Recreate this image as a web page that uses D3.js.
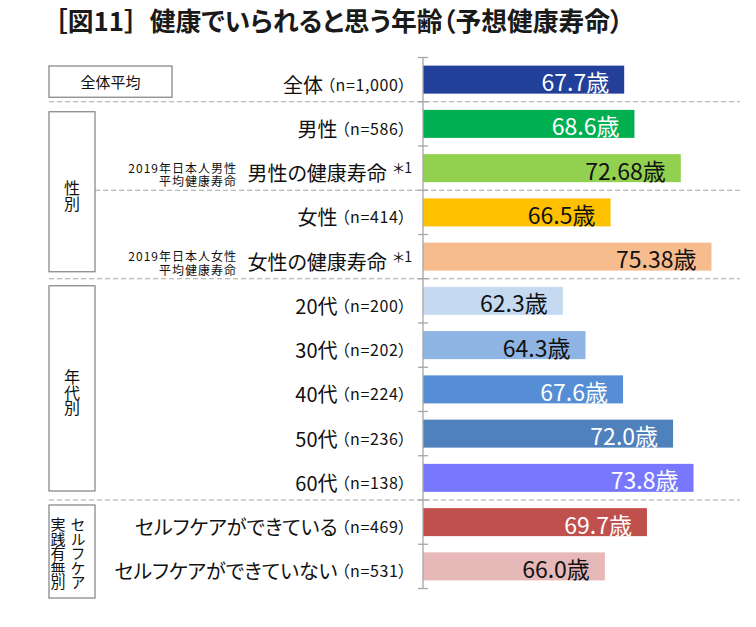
<!DOCTYPE html>
<html>
<head>
<meta charset="utf-8">
<script src="https://cdn.jsdelivr.net/npm/d3@7"></script>
<style>
body { margin: 0; background: #fff; }
svg text { font-family: "Noto Sans CJK JP", "Noto Sans", sans-serif; font-feature-settings: "palt"; }
</style>
</head>
<body>
<div id="chart"></div>
<script>
var categories = ["全体", "男性", "男性の健康寿命", "女性", "女性の健康寿命",
    "20代", "30代", "40代", "50代", "60代",
    "セルフケアができている", "セルフケアができていない"];
var sampleSizes = ["n=1,000", "n=586", null, "n=414", null,
    "n=200", "n=202", "n=224", "n=236", "n=138", "n=469", "n=531"];
var values = [67.7, 68.6, 72.68, 66.5, 75.38, 62.3, 64.3, 67.6, 72.0, 73.8, 69.7, 66.0];
var decimals = [1, 1, 2, 1, 2, 1, 1, 1, 1, 1, 1, 1];
var footnotes = [null, null, "＊1", null, "＊1", null, null, null, null, null, null, null];
var noteLines = [null, null, ["2019年日本人男性", "平均健康寿命"], null, ["2019年日本人女性", "平均健康寿命"],
    null, null, null, null, null, null, null];
var groupColumns = [["全体平均"], ["性別"], ["年代別"], ["セルフケア", "実践有無別"]];
var groupSizes = [1, 4, 5, 2];
var barColors = ["#22409a", "#00b050", "#92d050", "#ffc000", "#f7bc8e",
    "#c5d9f1", "#8eb4e3", "#558ed5", "#4f81bd", "#7878ff", "#c0504d", "#e6b9b8"];
var valueColors = ["#fff", "#fff", "#111", "#111", "#111",
    "#111", "#111", "#fff", "#fff", "#fff", "#fff", "#111"];

var width = 756, height = 627;
var gridColor = "#a6a6a6";

var svg = d3.select("#chart").append("svg")
    .attr("width", width)
    .attr("height", height);

// title
var title = svg.append("text")
    .attr("x", 42)
    .attr("y", 31)
    .attr("textLength", 581)
    .attr("lengthAdjust", "spacingAndGlyphs")
    .style("font-size", "26px")
    .style("font-weight", "bold")
    .style("fill", "#1a1a1a");
title.append("tspan")
    .style("font-feature-settings", "normal")
    .text("［図11］");
title.append("tspan")
    .text("健康でいられると思う年齢（予想健康寿命）");

var y = d3.scaleBand()
    .domain(categories)
    .range([57.5, 588.5])
    .paddingInner(0.367)
    .paddingOuter(0.1835);

var x = d3.scaleLinear()
    .domain([50, 80])
    .range([423, 764]);

var step = y.step();
var boundary = function(i) { return y.range()[0] + i * step; };
var center = function(d) { return y(d) + y.bandwidth() / 2; };

// dashed separators between groups
var groupEnds = [];
var acc = 0;
groupSizes.forEach(function(n) { groupEnds.push([acc, acc + n]); acc += n; });

groupEnds.slice(0, -1).forEach(function(g) {
    svg.append("line")
        .attr("x1", 49).attr("x2", 740)
        .attr("y1", boundary(g[1])).attr("y2", boundary(g[1]))
        .style("stroke", gridColor)
        .style("stroke-dasharray", "5,3");
});
// male / female split inside 性別
svg.append("line")
    .attr("x1", 95).attr("x2", 740)
    .attr("y1", boundary(3)).attr("y2", boundary(3))
    .style("stroke", gridColor)
    .style("stroke-dasharray", "5,3");

// group boxes
var insetTop = [8.5, 10, 7, 5];
var insetBottom = [4.5, 7, 9, -9.5];
groupColumns.forEach(function(cols, i) {
    var top = boundary(groupEnds[i][0]) + insetTop[i];
    var bottom = boundary(groupEnds[i][1]) - insetBottom[i];
    var left = 49, right = i === 0 ? 172 : 95;
    svg.append("rect")
        .attr("x", left).attr("y", top)
        .attr("width", right - left).attr("height", bottom - top)
        .style("fill", "#fff")
        .style("stroke", "#808080")
        .style("stroke-width", 1.2);

    var cy = (top + bottom) / 2;
    if (i === 0) {
        svg.append("text")
            .attr("x", (left + right) / 2)
            .attr("y", cy)
            .attr("text-anchor", "middle")
            .attr("dominant-baseline", "central")
            .style("font-size", "15px")
            .style("fill", "#111")
            .text(cols[0]);
        return;
    }
    var two = cols.length > 1;
    var colX = two ? [78, 58] : [72];
    cols.forEach(function(col, c) {
        svg.append("text")
            .attr("x", colX[c])
            .attr("y", cy + (two ? 2 : 4))
            .attr("text-anchor", "middle")
            .style("writing-mode", "vertical-rl")
            .style("font-feature-settings", "normal")
            .style("letter-spacing", "-0.5px")
            .style("font-size", two ? "15px" : "16px")
            .style("fill", "#111")
            .text(col);
    });
});

// category labels
var labels = svg.selectAll(".cat-label")
    .data(categories)
    .enter().append("text")
    .attr("class", "cat-label")
    .attr("x", function(d, i) { return footnotes[i] ? 412 : 407; })
    .attr("y", function(d) { return center(d) + 4; })
    .attr("text-anchor", "end")
    .attr("dominant-baseline", "central")
    .style("fill", "#111");

labels.append("tspan")
    .style("font-size", "20px")
    .text(function(d) { return d; });

labels.each(function(d, i) {
    var t = d3.select(this);
    if (sampleSizes[i]) {
        t.append("tspan")
            .attr("dx", 4)
            .style("font-size", "16px")
            .style("letter-spacing", "0.6px")
            .text("（" + sampleSizes[i] + "）");
    }
    if (footnotes[i]) {
        t.append("tspan")
            .attr("dx", 6)
            .attr("dy", -5)
            .style("font-size", "14px")
            .text(footnotes[i]);
    }
});

// small two-line notes left of the health-expectancy labels
categories.forEach(function(d, i) {
    if (!noteLines[i]) return;
    noteLines[i].forEach(function(line, k) {
        svg.append("text")
            .attr("x", 237)
            .attr("y", center(d) + (k === 0 ? -1 : 12.5))
            .attr("text-anchor", "end")
            .attr("dominant-baseline", "central")
            .style("font-size", "12px")
            .style("letter-spacing", "1px")
            .style("fill", "#111")
            .text(line);
    });
});

// bars
svg.selectAll(".bar")
    .data(categories)
    .enter().append("rect")
    .attr("class", "bar")
    .attr("x", x(50))
    .attr("y", function(d) { return y(d); })
    .attr("width", function(d, i) { return x(values[i]) - x(50); })
    .attr("height", y.bandwidth())
    .style("fill", function(d, i) { return barColors[i]; });

// value labels
svg.selectAll(".value")
    .data(categories)
    .enter().append("text")
    .attr("class", "value")
    .attr("x", function(d, i) { return x(values[i]) - 15; })
    .attr("y", function(d) { return center(d) + 1.5; })
    .attr("text-anchor", "end")
    .attr("dominant-baseline", "central")
    .style("font-size", "23px")
    .style("fill", function(d, i) { return valueColors[i]; })
    .text(function(d, i) { return values[i].toFixed(decimals[i]) + "歳"; });

// axis with ticks at band boundaries
svg.append("line")
    .attr("x1", x(50)).attr("x2", x(50))
    .attr("y1", boundary(0)).attr("y2", boundary(categories.length))
    .style("stroke", gridColor)
    .style("stroke-width", 1.3);

svg.selectAll(".tick")
    .data(d3.range(categories.length + 1))
    .enter().append("line")
    .attr("class", "tick")
    .attr("x1", x(50) - 5).attr("x2", x(50) + 5)
    .attr("y1", function(i) { return boundary(i); })
    .attr("y2", function(i) { return boundary(i); })
    .style("stroke", gridColor)
    .style("stroke-width", 1.3);
</script>
</body>
</html>
